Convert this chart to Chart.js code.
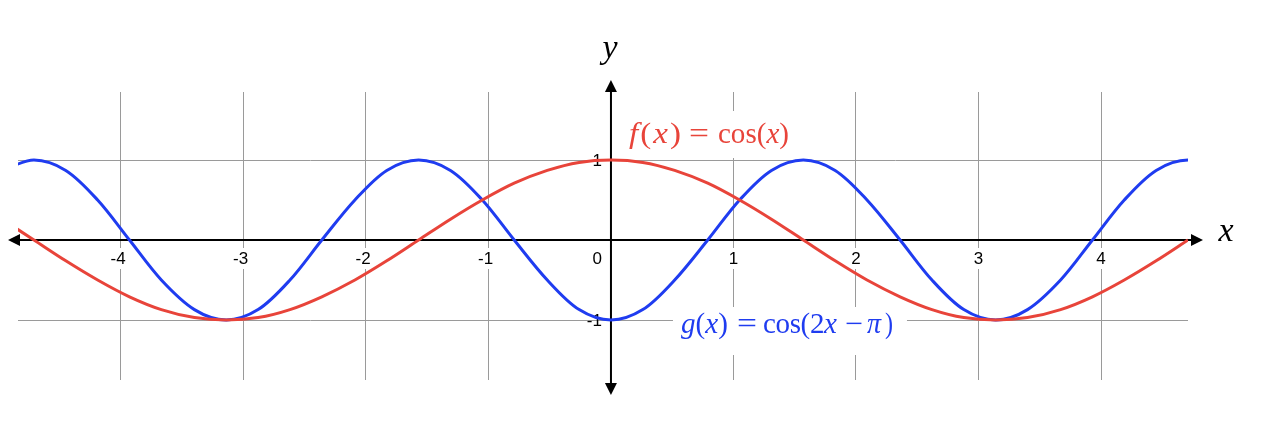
<!DOCTYPE html>
<html>
<head>
<meta charset="utf-8">
<script src="https://cdn.jsdelivr.net/npm/chart.js@4/dist/chart.umd.min.js"></script>
<style>
  html, body { margin: 0; padding: 0; background: #fff; }
  #chart { display: block; }
</style>
</head>
<body>
<canvas id="chart" width="1268" height="422"></canvas>
<script>
// valores (los extremos quedan recortados por el área)
const xValues = [-4.97, -4.71, -4.45, -4.19, -3.93, -3.67, -3.40, -3.14, -2.88, -2.62, -2.36, -2.09, -1.83,
  -1.57, -1.31, -1.05, -0.79, -0.52, -0.26, 0, 0.26, 0.52, 0.79, 1.05, 1.31, 1.57, 1.83, 2.09, 2.36,
  2.62, 2.88, 3.14, 3.40, 3.67, 3.93, 4.19, 4.45, 4.71, 4.97]
const fValues = [0.26, 0, -0.26, -0.5, -0.71, -0.87, -0.97, -1, -0.97, -0.87, -0.71, -0.5, -0.26,
  0, 0.26, 0.5, 0.71, 0.87, 0.97, 1, 0.97, 0.87, 0.71, 0.5, 0.26, 0, -0.26, -0.5, -0.71,
  -0.87, -0.97, -1, -0.97, -0.87, -0.71, -0.5, -0.26, 0, 0.26]
const gValues = [0.87, 1, 0.87, 0.5, 0, -0.5, -0.87, -1, -0.87, -0.5, 0, 0.5, 0.87,
  1, 0.87, 0.5, 0, -0.5, -0.87, -1, -0.87, -0.5, 0, 0.5, 0.87, 1, 0.87, 0.5, 0,
  -0.5, -0.87, -1, -0.87, -0.5, 0, 0.5, 0.87, 1, 0.87]
const xTicks = [-4, -3, -2, -1, 0, 1, 2, 3, 4]
const yTicks = [-1, 1]
const xRange = [-4.84, 4.71]
const yRange = [-1.75, 1.85]

const RED = '#e8443a'
const BLUE = '#1f3cf0'
const SERIF = '"Liberation Serif", "DejaVu Serif", serif'
const SANS = '"Liberation Sans", Arial, sans-serif'

// escribe una fórmula por grupos: [inicio, fin, [[texto, cursiva], ...]]
// cada grupo se estira un poco y se reparte a lo ancho de su hueco
function drawMath(ctx, groups, x, y, size, color) {
  ctx.fillStyle = color
  ctx.textBaseline = 'alphabetic'
  ctx.textAlign = 'left'
  const fontOf = it => (it ? 'italic ' : '') + size + 'px ' + SERIF
  for (const [start, end, parts] of groups) {
    const chars = []
    for (const [txt, it] of parts) for (const ch of txt) chars.push([ch, it])
    let natural = 0
    chars.forEach(([ch, it]) => { ctx.font = fontOf(it); natural += ctx.measureText(ch).width })
    const slot = end - start
    const sx = chars.length === 1 ? slot / natural : Math.max(1, Math.sqrt(slot / natural))
    const gap = chars.length === 1 ? 0 : (slot - natural * sx) / (chars.length - 1)
    let cx = x + start
    chars.forEach(([ch, it]) => {
      ctx.font = fontOf(it)
      ctx.save()
      ctx.translate(cx, y)
      ctx.scale(sx, 1)
      ctx.fillText(ch, 0, 0)
      ctx.restore()
      cx += ctx.measureText(ch).width * sx + gap
    })
  }
}

function arrow(ctx, x, y, dir) {
  ctx.save()
  ctx.translate(x, y)
  ctx.rotate(dir)
  ctx.beginPath()
  ctx.moveTo(0, 0)
  ctx.lineTo(-12, -6)
  ctx.lineTo(-12, 6)
  ctx.closePath()
  ctx.fill()
  ctx.restore()
}

const ejes = {
  id: 'ejes',
  beforeDatasetsDraw(chart) {
    const ctx = chart.ctx
    const xs = chart.scales.x
    const ys = chart.scales.y
    const x0 = xs.getPixelForValue(0)
    const y0 = ys.getPixelForValue(0)
    const a = chart.chartArea
    ctx.save()

    // etiquetas del eje x con fondo blanco
    ctx.font = '17px ' + SANS
    ctx.textBaseline = 'middle'
    xTicks.forEach(v => {
      const px = xs.getPixelForValue(v)
      const txt = String(v)
      const dw = ctx.measureText(String(Math.abs(v))).width
      const w = ctx.measureText(txt).width
      let right = px + dw / 2
      if (v === 0) right = px - 9
      ctx.fillStyle = '#fff'
      ctx.fillRect(right - w - 3, y0 + 8, w + 6, 21)
      ctx.fillStyle = '#000'
      ctx.textAlign = 'right'
      ctx.fillText(txt, right, y0 + 19)
    })

    // etiquetas del eje y
    ctx.textAlign = 'right'
    yTicks.forEach(v => {
      ctx.fillStyle = '#000'
      ctx.fillText(String(v), x0 - 9, ys.getPixelForValue(v) + 1)
    })

    // fórmulas
    const fx = x0 + 18, fy = ys.getPixelForValue(1) - 17
    ctx.fillStyle = '#fff'
    ctx.fillRect(fx - 7, fy - 32, 184, 47)
    drawMath(ctx, [
      [0, 52, [['f', true], ['(', false], ['x', true], [')', false]]],
      [60, 80, [['=', false]]],
      [89, 160, [['cos(', false], ['x', true], [')', false]]]
    ], fx, fy, 29, RED)

    const gx = x0 + 70, gy = ys.getPixelForValue(-1) + 13
    ctx.fillStyle = '#fff'
    ctx.fillRect(gx - 8, gy - 26, 234, 48)
    drawMath(ctx, [
      [0, 47, [['g', true], ['(', false], ['x', true], [')', false]]],
      [56, 76, [['=', false]]],
      [82, 156, [['cos(2', false], ['x', true]]],
      [164, 182, [['\u2212', false]]],
      [186, 200, [['\u03c0', true]]],
      [204, 212, [[')', false]]]
    ], gx, gy, 29, BLUE)

    // ejes con flechas
    ctx.strokeStyle = '#000'
    ctx.fillStyle = '#000'
    ctx.lineWidth = 2
    ctx.beginPath()
    ctx.moveTo(a.left - 6, y0)
    ctx.lineTo(a.right + 10, y0)
    ctx.moveTo(x0, a.top - 8)
    ctx.lineTo(x0, a.bottom + 8)
    ctx.stroke()
    arrow(ctx, a.right + 15, y0, 0)
    arrow(ctx, a.left - 10, y0, Math.PI)
    arrow(ctx, x0, a.top - 12, -Math.PI / 2)
    arrow(ctx, x0, a.bottom + 15, Math.PI / 2)

    // nombres de los ejes
    ctx.fillStyle = '#000'
    ctx.textAlign = 'center'
    ctx.textBaseline = 'alphabetic'
    ctx.font = 'italic 34px ' + SERIF
    ctx.fillText('y', x0 - 1, a.top - 34)
    ctx.fillText('x', a.right + 38, y0 + 1)
    ctx.restore()
  }
}

const ctx = document.getElementById('chart')
new Chart(ctx, {
  type: 'line',
  data: {
    datasets: [
      {
        label: 'f(x) = cos(x)',
        data: xValues.map((x, i) => ({ x, y: fValues[i] })),
        borderColor: RED,
        borderWidth: 3,
        pointRadius: 0,
        tension: 0.33,
        clip: 0
      },
      {
        label: 'g(x) = cos(2x − π)',
        data: xValues.map((x, i) => ({ x, y: gValues[i] })),
        borderColor: BLUE,
        borderWidth: 3,
        pointRadius: 0,
        tension: 0.33,
        clip: 0
      }
    ]
  },
  options: {
    responsive: false,
    animation: false,
    devicePixelRatio: 1,
    layout: { padding: { left: 18, right: 80, top: 92, bottom: 42 } },
    plugins: { legend: { display: false }, tooltip: { enabled: false } },
    scales: {
      x: {
        type: 'linear', min: xRange[0], max: xRange[1],
        afterBuildTicks: s => { s.ticks = xTicks.map(v => ({ value: v })) },
        ticks: { display: false },
        border: { display: false },
        grid: { color: '#9a9a9a', lineWidth: 1, drawTicks: false, tickLength: 0 }
      },
      y: {
        type: 'linear', min: yRange[0], max: yRange[1],
        afterBuildTicks: s => { s.ticks = yTicks.map(v => ({ value: v })) },
        ticks: { display: false },
        border: { display: false },
        grid: { color: '#9a9a9a', lineWidth: 1, drawTicks: false, tickLength: 0 }
      }
    }
  },
  plugins: [ejes]
})
</script>
</body>
</html>
